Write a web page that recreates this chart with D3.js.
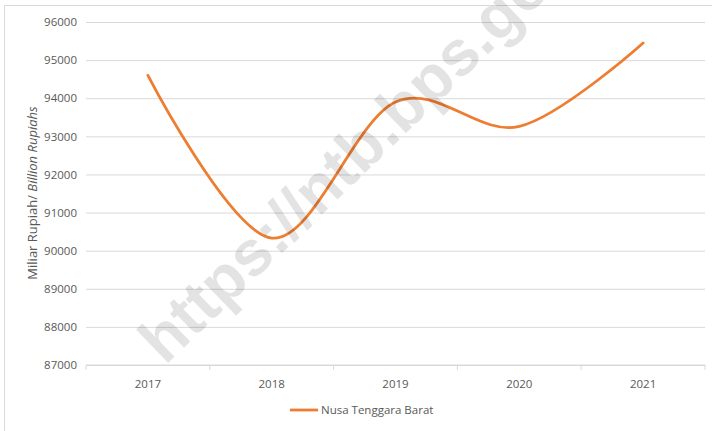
<!DOCTYPE html>
<html>
<head>
<meta charset="utf-8">
<script src="https://cdn.jsdelivr.net/npm/d3@7"></script>
<style>
  body { margin: 0; background: #fff; }
  svg text { font-family: "Open Sans", "Liberation Sans", sans-serif; fill: #595959; }
</style>
</head>
<body>
<svg id="chart" width="712" height="431"></svg>
<script>
// data
var years = ['2017', '2018', '2019', '2020', '2021'];
var ntbValues = [94600, 90330, 93900, 93260, 95450];
var yTicks = [87000, 88000, 89000, 90000, 91000, 92000, 93000, 94000, 95000, 96000];

var svg = d3.select('#chart');
var plot = { left: 86, right: 705, top: 22, bottom: 365 };

// chart frame
svg.append('rect')
    .attr('x', 4.5).attr('y', 5.5)
    .attr('width', 730).attr('height', 450)
    .attr('fill', 'none').attr('stroke', '#d9d9d9');

var x = d3.scaleBand().domain(years).range([plot.left, plot.right]);
var y = d3.scaleLinear().domain([87000, 96000]).range([plot.bottom, plot.top]);

// gridlines + y labels
var yAxis = d3.axisLeft(y).tickValues(yTicks).tickFormat(d3.format('d'))
    .tickSize(-(plot.right - plot.left)).tickPadding(9);
var gy = svg.append('g').attr('transform', 'translate(' + plot.left + ',0)').call(yAxis);
gy.select('.domain').remove();
gy.selectAll('line').attr('stroke', '#d9d9d9');
gy.selectAll('text').style('font-size', '11.5px').attr('fill', '#595959');

// x axis with ticks at category boundaries
var gx = svg.append('g').attr('transform', 'translate(0,' + plot.bottom + ')');
gx.append('line').attr('x1', plot.left).attr('x2', plot.right)
    .attr('stroke', '#d9d9d9');
var bounds = years.map(function(d) { return x(d); }).concat([plot.right]);
gx.selectAll('.tk').data(bounds).enter().append('line')
    .attr('x1', function(d) { return d; }).attr('x2', function(d) { return d; })
    .attr('y1', 0).attr('y2', 5).attr('stroke', '#d9d9d9');
gx.selectAll('.lbl').data(years).enter().append('text')
    .attr('x', function(d) { return x(d) + x.bandwidth() / 2; })
    .attr('y', 23)
    .attr('text-anchor', 'middle')
    .style('font-size', '11.5px')
    .text(function(d) { return d; });

// y title
var yt = svg.append('text')
    .attr('transform', 'translate(37,193) rotate(-90)')
    .attr('text-anchor', 'middle')
    .style('font-size', '13px');
yt.append('tspan').text('Miliar Rupiah/ ');
yt.append('tspan').style('font-style', 'italic').text('Billion Rupiahs');

// series line
var line = d3.line()
    .x(function(d, i) { return x(years[i]) + x.bandwidth() / 2; })
    .y(function(d) { return y(d); })
    .curve(d3.curveCardinal.tension(0));
svg.append('path')
    .datum(ntbValues)
    .attr('d', line)
    .attr('fill', 'none')
    .attr('stroke', '#ed7d31')
    .attr('stroke-width', 2.8)
    .attr('stroke-linecap', 'round');

// legend
svg.append('line').attr('x1', 290).attr('x2', 318).attr('y1', 410).attr('y2', 410)
    .attr('stroke', '#ed7d31').attr('stroke-width', 2.8);
svg.append('text').attr('x', 321).attr('y', 414)
    .style('font-size', '11.5px').text('Nusa Tenggara Barat');

// watermark on top, semi-transparent
svg.append('text')
    .attr('transform', 'translate(165,366) rotate(-44)')
    .style('font-family', '"Liberation Sans", Arial, sans-serif')
    .style('font-weight', 'bold')
    .style('font-size', '64px')
    .style('fill', '#000')
    .style('fill-opacity', 0.11)
    .text('https://ntb.bps.go.id');
</script>
</body>
</html>
